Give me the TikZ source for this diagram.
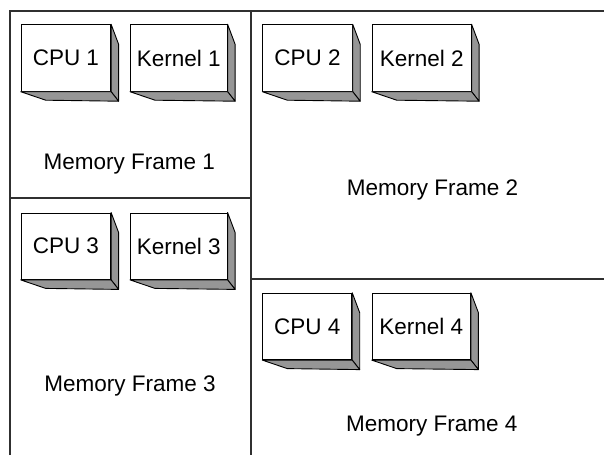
\documentclass[tikz,border=0pt]{standalone}
\usepackage{fontspec}
\setmainfont{Liberation Sans}
\usetikzlibrary{calc}
\definecolor{facegray}{HTML}{969696}
\definecolor{linegray}{HTML}{303030}
\tikzset{
  frontbox/.style={draw=black, fill=white, line width=0.9pt, inner sep=0pt,
    minimum height=66.5pt, anchor=north west, font=\fontsize{22.5}{26}\selectfont},
  sideface/.style={draw=black, fill=facegray, line width=0.9pt, line join=round},
  frameline/.style={draw=linegray, line width=1.2pt},
  framelabel/.style={anchor=base, inner sep=0pt, font=\fontsize{22.5}{26}\selectfont}
}
\newcommand\boxfaces[1]{%
  \path[sideface] (#1.north east) -- ++(7.5,20) -- ($(#1.south east)+(7.5,9.5)$) -- (#1.south east) -- cycle;
  \path[sideface] (#1.south west) -- ++(25,8.5) -- ($(#1.south east)+(7.5,9.5)$) -- (#1.south east) -- cycle;
}
\begin{document}
\begin{tikzpicture}[x=1pt,y=-1pt]
\useasboundingbox[fill=white] (0,0) rectangle (604,455);
% frame lines
\coordinate (tl) at (10,11);
\coordinate (tr) at (604,11);
\coordinate (bl) at (10,455);
\coordinate (mt) at (251,11);
\coordinate (mb) at (251,455);
\coordinate (h1l) at (10,198);
\coordinate (h1r) at (251,198);
\coordinate (h2l) at (251,279);
\coordinate (h2r) at (604,279);
\draw[frameline] (bl) -- (tl) -- (tr);
\draw[frameline] (mt) -- (mb);
\draw[frameline] (h1l) -- (h1r);
\draw[frameline] (h2l) -- (h2r);
% boxes
\node[frontbox, minimum width=89.5pt] (cpu1) at (20.7,24.3) {CPU 1};
\node[frontbox, minimum width=96.7pt] (ker1) at (130,24.3) {Kernel 1};
\node[frontbox, minimum width=89.5pt] (cpu2) at (262.3,24.3) {CPU 2};
\node[frontbox, minimum width=99pt] (ker2) at (371.7,24.3) {Kernel 2};
\node[frontbox, minimum width=89.5pt] (cpu3) at (20.7,212.5) {CPU 3};
\node[frontbox, minimum width=96.7pt] (ker3) at (130,212.5) {Kernel 3};
\node[frontbox, minimum width=89pt] (cpu4) at (262.3,292.7) {CPU 4};
\node[frontbox, minimum width=98.3pt] (ker4) at (371.7,292.7) {Kernel 4};
\boxfaces{cpu1}
\boxfaces{ker1}
\boxfaces{cpu2}
\boxfaces{ker2}
\boxfaces{cpu3}
\boxfaces{ker3}
\boxfaces{cpu4}
\boxfaces{ker4}
% labels
\node[framelabel] (mf1) at (129.2,169.3) {Memory Frame 1};
\node[framelabel] (mf2) at (432.5,195) {Memory Frame 2};
\node[framelabel] (mf3) at (130,391.7) {Memory Frame 3};
\node[framelabel] (mf4) at (431.7,431.7) {Memory Frame 4};
\end{tikzpicture}
\end{document}
